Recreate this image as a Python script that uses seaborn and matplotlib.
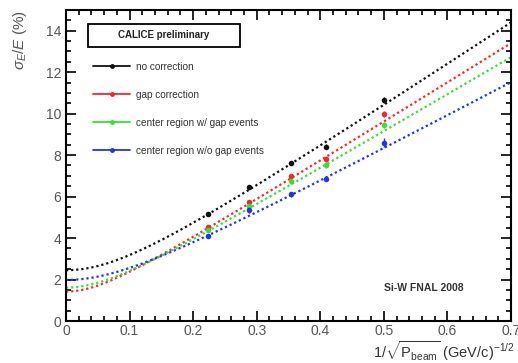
import numpy as np
import pandas as pd
import seaborn as sns
import matplotlib
matplotlib.use("Agg")
import matplotlib.pyplot as plt
from matplotlib.lines import Line2D
from matplotlib.patches import Rectangle
from matplotlib.ticker import MultipleLocator, FuncFormatter

# Beam momenta (GeV/c) and x = 1/sqrt(P)
beam_momenta = [20, 12, 8, 6, 4]
inv_sqrt_p = [1 / np.sqrt(p) for p in beam_momenta]

# Measured relative energy resolution sigma_E/E (%)
res_no_corr = [5.17, 6.46, 7.64, 8.41, 10.65]
res_gap_corr = [4.52, 5.75, 7.00, 7.80, 10.00]
res_center_w_gap = [4.41, 5.53, 6.73, 7.50, 9.45]
res_center_wo_gap = [4.12, 5.33, 6.12, 6.87, 8.60]

err_no_corr = [0.08, 0.10, 0.10, 0.12, 0.14]
err_gap_corr = [0.08, 0.10, 0.10, 0.12, 0.14]
err_center_w_gap = [0.08, 0.10, 0.10, 0.12, 0.14]
err_center_wo_gap = [0.08, 0.10, 0.12, 0.14, 0.22]

# Fit parameters: sigma/E = sqrt((a/sqrt(P))^2 + c^2)
stoch_terms = [20.27, 19.03, 18.03, 16.21]
const_terms = [2.45, 1.42, 1.61, 1.98]

labels = ["no correction", "gap correction",
          "center region w/ gap events", "center region w/o gap events"]
colors = ["#111111", "#ff2222", "#33e033", "#2233ee"]

series = [res_no_corr, res_gap_corr, res_center_w_gap, res_center_wo_gap]
errors = [err_no_corr, err_gap_corr, err_center_w_gap, err_center_wo_gap]

sns.set_theme(style="ticks")
plt.rcParams["font.family"] = ["Liberation Sans", "DejaVu Sans"]
plt.rcParams["mathtext.fontset"] = "custom"
plt.rcParams["mathtext.rm"] = "Liberation Sans"
plt.rcParams["mathtext.it"] = "Liberation Sans:italic"

fig = plt.figure(figsize=(5.18, 3.63), dpi=100)
ax = fig.add_axes([0.1274, 0.1157, 0.859, 0.8568])

xfit = np.linspace(0, 0.7, 300)
for lab, col, a, c, yv, ev in zip(labels, colors, stoch_terms, const_terms, series, errors):
    fit_df = pd.DataFrame({"x": xfit, "y": np.sqrt((a * xfit) ** 2 + c ** 2)})
    sns.lineplot(data=fit_df, x="x", y="y", color=col, linestyle=(0, (1, 1.3)),
                 linewidth=1.6, ax=ax, legend=False)
    pts = pd.DataFrame({"x": inv_sqrt_p, "y": yv})
    ax.errorbar(pts["x"], pts["y"], yerr=ev, fmt="none", ecolor=col, elinewidth=1.0)
    sns.scatterplot(data=pts, x="x", y="y", color=col, s=16, edgecolor=col,
                    linewidth=0, ax=ax, zorder=5, legend=False)

ax.set_xlim(0, 0.7)
ax.set_ylim(0, 15)
ax.xaxis.set_major_locator(MultipleLocator(0.1))
ax.xaxis.set_minor_locator(MultipleLocator(0.02))
ax.xaxis.set_major_formatter(FuncFormatter(lambda v, p: f"{v:g}"))
ax.yaxis.set_major_locator(MultipleLocator(2))
ax.yaxis.set_minor_locator(MultipleLocator(0.5))
ax.set_yticks([0, 2, 4, 6, 8, 10, 12, 14])
ax.tick_params(which="both", direction="in", top=True, right=True,
               colors="black", labelcolor="#555555", labelsize=10, width=1.2)
ax.tick_params(which="major", length=7)
ax.tick_params(which="minor", length=3.5)
ax.tick_params(axis="x", which="major", pad=2)
for sp in ax.spines.values():
    sp.set_linewidth(1.5)
    sp.set_color("black")

ax.set_xlabel(r"$1/\sqrt{\mathrm{P}_{\mathrm{beam}}}\ (\mathrm{GeV/c})^{-1/2}$",
              fontsize=10.5, color="#333333", ha="right", va="top")
ax.xaxis.set_label_coords(1.009, -0.058)
ax.set_ylabel(r"$\sigma_{E}/E\ (\%)$", loc="top", fontsize=11,
              color="#555555", labelpad=12)

# Title box
ax.add_patch(Rectangle((0.049, 0.881), 0.342, 0.074, transform=ax.transAxes,
                       fill=False, ec="black", lw=1.3, zorder=6))
ax.text(0.22, 0.918, "CALICE preliminary", transform=ax.transAxes, fontsize=7,
        fontweight="bold", ha="center", va="center", color="#222222")

handles = [Line2D([], [], color=c, lw=1.3, marker="o", markersize=2.5) for c in colors]
leg = ax.legend(handles, labels, loc="upper left", bbox_to_anchor=(0.052, 0.847),
                frameon=False, fontsize=7.2, labelspacing=1.8, handlelength=3.7,
                handletextpad=0.6, borderaxespad=0)
for t in leg.get_texts():
    t.set_color("#333333")

ax.text(0.805, 0.106, "Si-W FNAL 2008", transform=ax.transAxes, fontsize=7.5,
        fontweight="bold", ha="center", va="center", color="#333333")

fig.savefig("out.png", dpi=100)
